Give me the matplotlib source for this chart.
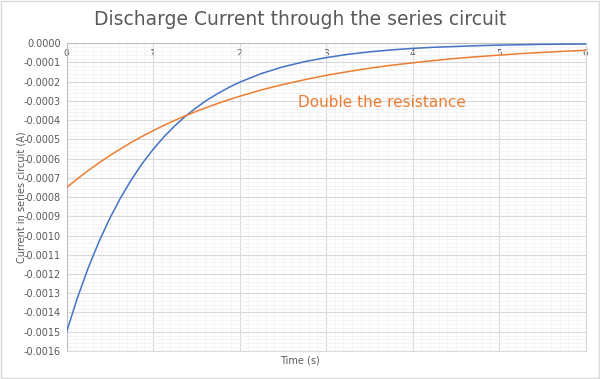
import matplotlib.pyplot as plt
from matplotlib.ticker import MultipleLocator, FormatStrFormatter
from matplotlib.patches import Rectangle

# time values (s) and currents (A)
time_s = [0, 0.125, 0.25, 0.375, 0.5, 0.625, 0.75, 0.875, 1, 1.125, 1.25,
          1.375, 1.5, 1.625, 1.75, 1.875, 2, 2.25, 2.5, 2.75, 3, 3.25, 3.5,
          3.75, 4, 4.25, 4.5, 4.75, 5, 5.25, 5.5, 5.75, 6]
current_r = [-0.001500, -0.001324, -0.001168, -0.001031, -0.000910, -0.000803,
             -0.000709, -0.000625, -0.000552, -0.000487, -0.000430, -0.000379,
             -0.000335, -0.000295, -0.000261, -0.000230, -0.000203, -0.000158,
             -0.000123, -0.000096, -0.000075, -0.000058, -0.000045, -0.000035,
             -0.000027, -0.000021, -0.000017, -0.000013, -0.000010, -0.000008,
             -0.000006, -0.000005, -0.000004]
current_2r = [-0.000750, -0.000705, -0.000662, -0.000622, -0.000584, -0.000549,
              -0.000515, -0.000484, -0.000455, -0.000427, -0.000401, -0.000377,
              -0.000354, -0.000333, -0.000313, -0.000294, -0.000276, -0.000243,
              -0.000215, -0.000190, -0.000167, -0.000148, -0.000130, -0.000115,
              -0.000102, -0.000090, -0.000079, -0.000070, -0.000062, -0.000054,
              -0.000048, -0.000042, -0.000037]

grey = "#595959"

fig = plt.figure(figsize=(6, 3.79), dpi=100)
ax = fig.add_axes([0.111, 0.074, 0.865, 0.812])

ax.plot(time_s, current_r, color="#4472C4", lw=1.1, zorder=3)
ax.plot(time_s, current_2r, color="#ED7D31", lw=1.1, zorder=3)

ax.set_xlim(0, 6)
ax.set_ylim(-0.0016, 0)

ax.xaxis.set_major_locator(MultipleLocator(1))
ax.xaxis.set_minor_locator(MultipleLocator(0.1))
ax.yaxis.set_major_locator(MultipleLocator(0.0001))
ax.yaxis.set_minor_locator(MultipleLocator(0.00002))
ax.yaxis.set_major_formatter(FormatStrFormatter("%.4f"))

# x axis sits at zero current, i.e. on top, with labels just under it
ax.xaxis.set_ticks_position("top")
ax.tick_params(axis="x", which="both", length=0, pad=-11, labelsize=6.5,
               labelcolor=grey)
ax.tick_params(axis="y", which="both", length=0, pad=4, labelsize=7,
               labelcolor=grey)

ax.grid(which="major", color="#D9D9D9", lw=0.8)
ax.grid(which="minor", color="#F2F2F2", lw=0.6)
ax.set_axisbelow(True)

for side in ["right", "bottom"]:
    ax.spines[side].set_color("#D9D9D9")
    ax.spines[side].set_linewidth(0.8)
for side in ["left", "top"]:
    ax.spines[side].set_color("#BFBFBF")
    ax.spines[side].set_linewidth(0.8)

fig.text(0.035, 0.48, "Current in series circuit (A)", fontsize=7, color=grey,
         rotation=90, ha="center", va="center")
fig.text(0.5, 0.05, "Time (s)", fontsize=7, color=grey, ha="center", va="center")

fig.text(0.5, 0.948, "Discharge Current through the series circuit",
         fontsize=13.5, color=grey, ha="center", va="center")

ax.text(3.65, -0.00031, "Double the resistance", fontsize=11, color="#ED7D31",
        ha="center", va="center")

# chart area border
fig.patches.append(Rectangle((0.002, 0.003), 0.996, 0.994, transform=fig.transFigure,
                             fill=False, edgecolor="#D9D9D9", lw=1))

fig.savefig("out.png", dpi=100)
